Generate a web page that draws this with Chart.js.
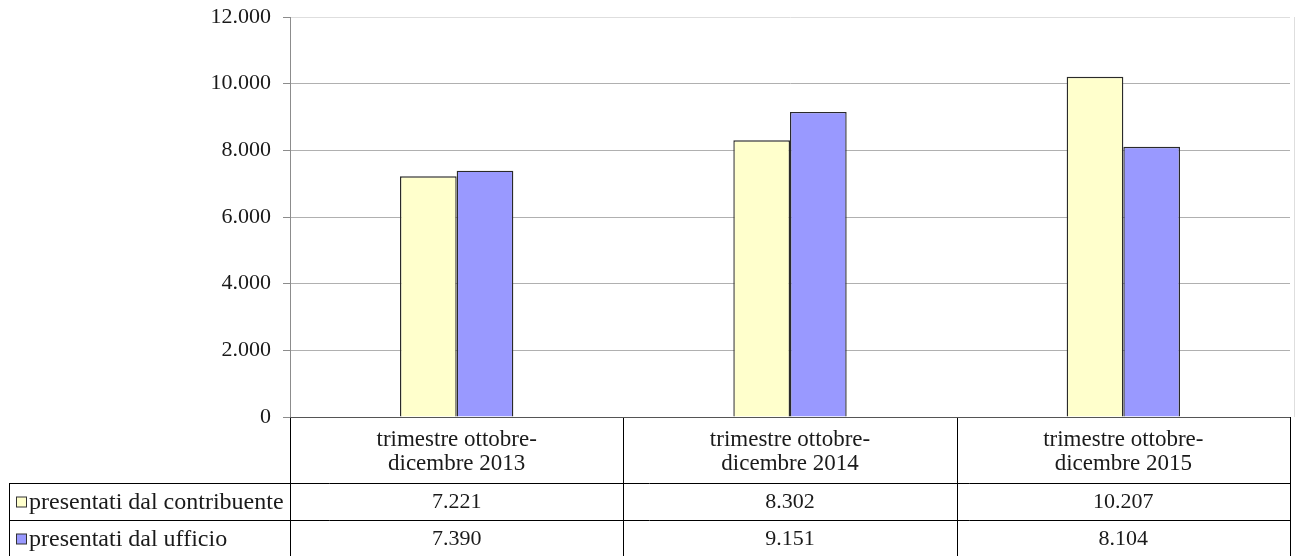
<!DOCTYPE html>
<html>
<head>
<meta charset="utf-8">
<script src="https://cdn.jsdelivr.net/npm/chart.js"></script>
<style>
  html, body { margin: 0; padding: 0; background: #fff; }
  #wrap { width: 1298px; height: 556px; }
</style>
</head>
<body>
<div id="wrap"><canvas id="c"></canvas></div>
<script>
// data
var categories = [
  ["trimestre ottobre-", "dicembre 2013"],
  ["trimestre ottobre-", "dicembre 2014"],
  ["trimestre ottobre-", "dicembre 2015"]
];
var seriesNames = ["presentati dal contribuente", "presentati dal ufficio"];
var contribuente = [7221, 8302, 10207];
var ufficio = [7390, 9151, 8104];
var yTicks = [0, 2000, 4000, 6000, 8000, 10000, 12000];

var colors = ["#FFFFCC", "#9999FF"];
var FONT = "'Liberation Serif', 'Times New Roman', serif";

function fmt(v) {
  return String(v).replace(/\B(?=(\d{3})+(?!\d))/g, ".");
}

// draws the Excel-like data table under the plot
var dataTable = {
  id: "dataTable",
  afterDraw: function (chart) {
    var ctx = chart.ctx;
    var x = chart.scales.x;
    var area = chart.chartArea;
    var n = categories.length;
    var cw = (area.right - area.left) / n;
    var top = area.bottom;
    var rowH = [66, 37, 37];
    var y1 = top + rowH[0], y2 = y1 + rowH[1], y3 = y2 + rowH[2];
    var leftEdge = 9;

    ctx.save();
    // light frame on the right of the plot
    ctx.strokeStyle = "#dedede";
    ctx.beginPath();
    ctx.moveTo(area.right + 4.5, area.top); ctx.lineTo(area.right + 4.5, area.bottom);
    ctx.stroke();

    ctx.strokeStyle = "#000";
    ctx.lineWidth = 1;
    ctx.beginPath();
    // horizontals
    ctx.moveTo(leftEdge, y1 + 0.5); ctx.lineTo(area.right, y1 + 0.5);
    ctx.moveTo(leftEdge, y2 + 0.5); ctx.lineTo(area.right, y2 + 0.5);
    ctx.moveTo(leftEdge, y3 + 0.5); ctx.lineTo(area.right, y3 + 0.5);
    // verticals
    ctx.moveTo(leftEdge + 0.5, y1); ctx.lineTo(leftEdge + 0.5, y3);
    for (var i = 0; i <= n; i++) {
      var vx = Math.round(area.left + i * cw) + 0.5;
      ctx.moveTo(vx, top); ctx.lineTo(vx, y3);
    }
    ctx.stroke();

    // x axis line
    ctx.strokeStyle = "#555";
    ctx.beginPath();
    ctx.moveTo(area.left, top + 0.5); ctx.lineTo(area.right, top + 0.5);
    ctx.stroke();

    ctx.fillStyle = "#1a1a1a";
    ctx.textAlign = "center";
    ctx.textBaseline = "middle";
    for (var j = 0; j < n; j++) {
      var cx = x.getPixelForValue(j);
      ctx.font = "23px " + FONT;
      ctx.fillText(categories[j][0], cx, top + 23);
      ctx.fillText(categories[j][1], cx, top + 47);
      ctx.font = "22px " + FONT;
      ctx.fillText(fmt(contribuente[j]), cx, y1 + rowH[1] / 2 + 1);
      ctx.fillText(fmt(ufficio[j]), cx, y2 + rowH[2] / 2 + 1);
    }

    // legend keys + row labels
    var rowsY = [y1 + rowH[1] / 2, y2 + rowH[2] / 2];
    ctx.textAlign = "left";
    ctx.font = "24px " + FONT;
    for (var k = 0; k < seriesNames.length; k++) {
      ctx.fillStyle = colors[k];
      ctx.fillRect(16.5, rowsY[k] - 4.5, 10, 10);
      ctx.strokeStyle = "#333";
      ctx.strokeRect(16.5, rowsY[k] - 4.5, 10, 10);
      ctx.fillStyle = "#1a1a1a";
      ctx.fillText(seriesNames[k], 29, rowsY[k] + 1);
    }
    ctx.restore();
  }
};

new Chart(document.getElementById("c").getContext("2d"), {
  type: "bar",
  data: {
    labels: categories.map(function (c) { return c.join(" "); }),
    datasets: [
      {
        label: seriesNames[0],
        data: contribuente,
        backgroundColor: colors[0],
        borderColor: "#2a2a2a",
        borderWidth: 1.4
      },
      {
        label: seriesNames[1],
        data: ufficio,
        backgroundColor: colors[1],
        borderColor: "#2a2a2a",
        borderWidth: 1.4
      }
    ]
  },
  options: {
    responsive: true,
    maintainAspectRatio: false,
    animation: false,
    datasets: {
      bar: { categoryPercentage: 0.34, barPercentage: 1.0 }
    },
    layout: { padding: { top: 17, right: 8, left: 0, bottom: 0 } },
    plugins: {
      legend: { display: false },
      tooltip: { enabled: false }
    },
    scales: {
      x: {
        grid: { display: false },
        border: { display: false },
        ticks: { display: false },
        afterFit: function (s) { s.height = 139; }
      },
      y: {
        min: 0,
        max: 12000,
        afterFit: function (s) { s.width = 290; s.paddingTop = 0; s.paddingBottom = 0; },
        afterBuildTicks: function (s) {
          s.ticks = yTicks.map(function (v) { return { value: v }; });
        },
        border: { color: "#8c8c8c" },
        grid: {
          color: function (c) {
            return c.tick && c.tick.value === 12000 ? "#dedede" : "#b0b0b0";
          },
          tickLength: 7,
          tickColor: "#8c8c8c"
        },
        ticks: {
          color: "#1a1a1a",
          padding: 12,
          font: { family: FONT, size: 22 },
          callback: function (v) { return fmt(v); }
        }
      }
    }
  },
  plugins: [dataTable]
});
</script>
</body>
</html>
